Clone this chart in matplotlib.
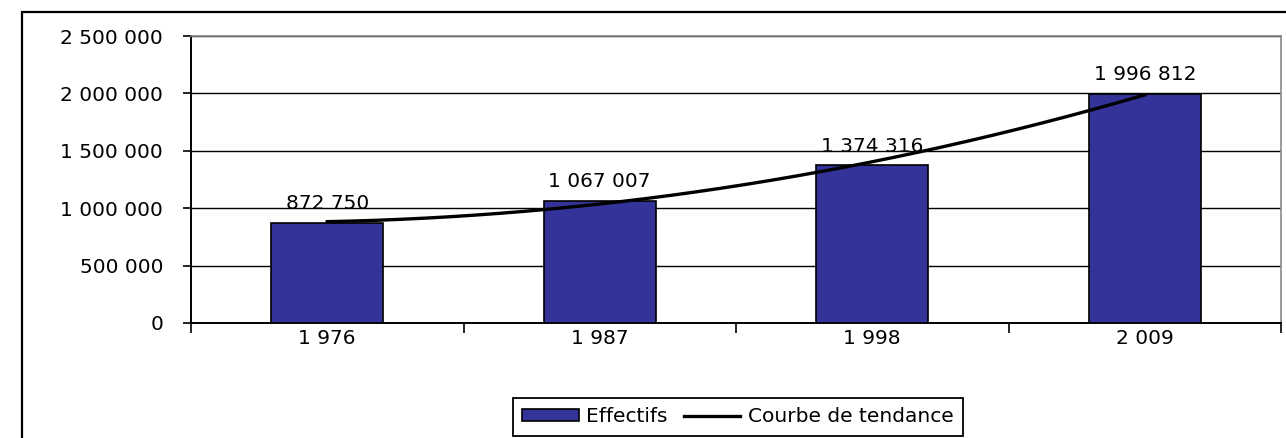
import numpy as np
import matplotlib.pyplot as plt
from matplotlib.patches import Rectangle

annees = ["1976", "1987", "1998", "2009"]
effectifs = [872750, 1067007, 1374316, 1996812]
y_ticks = [0, 500000, 1000000, 1500000, 2000000, 2500000]

BLEU = "#333399"
FS = 14.5


def fmt(v):
    # séparateur de milliers : espace
    return f"{v:,}".replace(",", " ")


def fmt_annee(s):
    return s[0] + " " + s[1:]


W, H = 1286, 438
fig = plt.figure(figsize=(W / 100, H / 100), dpi=100)
plt.rcParams["font.family"] = "DejaVu Sans"

# cadre extérieur de la zone de graphique
fig.patches.append(Rectangle((22 / W, -0.1), 1.2, 1 - 12 / H + 0.1,
                             transform=fig.transFigure, fill=False,
                             edgecolor="black", linewidth=1.6))

ax = fig.add_axes([191 / W, 1 - 323 / H, (1281 - 191) / W, (323 - 36) / H])

x = np.arange(len(annees))
ax.bar(x, effectifs, width=0.41, color=BLEU, edgecolor="black",
       linewidth=1.2, zorder=3, label="Effectifs")

# courbe de tendance polynomiale (ordre 2), comme Excel
coef = np.polyfit(x, effectifs, 2)
xs = np.linspace(x[0], x[-1], 200)
ax.plot(xs, np.polyval(coef, xs), color="black", linewidth=2.4, zorder=4,
        label="Courbe de tendance")

for xi, v in zip(x, effectifs):
    ax.annotate(fmt(v), (xi, v), xytext=(0, 7), textcoords="offset points",
                ha="center", va="bottom", fontsize=FS, zorder=5)

ax.set_xlim(-0.5, len(annees) - 0.5)
ax.set_ylim(0, 2500000)
ax.set_yticks(y_ticks)
ax.set_yticklabels([fmt(v) for v in y_ticks], fontsize=FS)
ax.yaxis.grid(True, color="black", linewidth=1.0, zorder=0)
ax.set_axisbelow(True)

# ticks aux limites de catégories, étiquettes au centre
ax.set_xticks(np.arange(-0.5, len(annees), 1.0))
ax.set_xticklabels([])
ax.set_xticks(x, minor=True)
ax.set_xticklabels([fmt_annee(a) for a in annees], minor=True, fontsize=FS)
ax.tick_params(axis="x", which="major", direction="out", length=7, width=1.2)
ax.tick_params(axis="x", which="minor", length=0, pad=4)
ax.tick_params(axis="y", direction="out", length=6, width=1.2, pad=14)

ax.spines["left"].set_linewidth(1.4)
ax.spines["bottom"].set_linewidth(1.4)
ax.spines["top"].set_color("#888888")
ax.spines["right"].set_color("#888888")
ax.spines["top"].set_linewidth(1.2)
ax.spines["right"].set_linewidth(1.2)

handles, labels = ax.get_legend_handles_labels()
order = [labels.index("Effectifs"), labels.index("Courbe de tendance")]
leg = fig.legend([handles[i] for i in order], [labels[i] for i in order],
                 loc="center", bbox_to_anchor=(738 / W, 1 - 417 / H), ncol=2,
                 fontsize=FS, frameon=True, fancybox=False, handlelength=2.8,
                 handleheight=0.55, columnspacing=0.8, handletextpad=0.38,
                 borderpad=0.45, borderaxespad=0)
leg.get_frame().set_edgecolor("black")
leg.get_frame().set_linewidth(1.3)
leg.get_frame().set_alpha(1)

fig.savefig("out.png", dpi=100)
